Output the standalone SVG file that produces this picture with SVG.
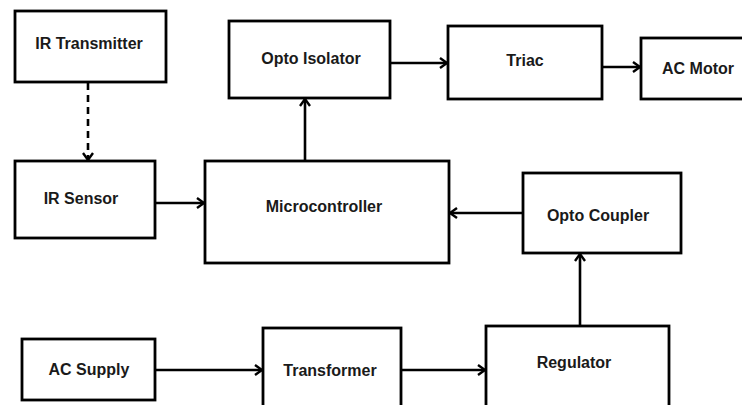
<svg xmlns="http://www.w3.org/2000/svg" width="742" height="405" viewBox="0 0 742 405">
<style>
.box{fill:#fff;stroke:#000;stroke-width:2.8}
.lbl{font-family:"Liberation Sans",Arial,sans-serif;font-weight:bold;font-size:16px;fill:#1a1a1a;text-anchor:middle}
.con{fill:none;stroke:#000;stroke-width:2.6}
.dash{stroke-dasharray:7 5}
</style>
<defs>
<marker id="arr" viewBox="0 0 10 12" refX="9" refY="6" markerWidth="10" markerHeight="12" markerUnits="userSpaceOnUse" orient="auto">
<path d="M2,1 L9,6 L2,11" fill="none" stroke="#000" stroke-width="2.4"/>
</marker>
</defs>
<rect width="742" height="405" fill="#fff"/>
<g id="connectors">
<path class="con dash" d="M88,83 V160" marker-end="url(#arr)"/>
<path class="con" d="M155,203 H204" marker-end="url(#arr)"/>
<path class="con" d="M305,161 V99" marker-end="url(#arr)"/>
<path class="con" d="M390,63 H447" marker-end="url(#arr)"/>
<path class="con" d="M602,67 H640" marker-end="url(#arr)"/>
<path class="con" d="M523,213 H450" marker-end="url(#arr)"/>
<path class="con" d="M580,326 V254" marker-end="url(#arr)"/>
<path class="con" d="M155,370 H262" marker-end="url(#arr)"/>
<path class="con" d="M401,370 H485" marker-end="url(#arr)"/>
</g>
<g id="ir-transmitter"><rect class="box" x="15" y="11" width="151" height="71"/><text class="lbl" x="89" y="49">IR Transmitter</text></g>
<g id="opto-isolator"><rect class="box" x="229" y="21" width="161" height="77"/><text class="lbl" x="311" y="64">Opto Isolator</text></g>
<g id="triac"><rect class="box" x="448" y="26" width="154" height="73"/><text class="lbl" x="525" y="66">Triac</text></g>
<g id="ac-motor"><rect class="box" x="641" y="38" width="110" height="61"/><text class="lbl" x="698" y="74">AC Motor</text></g>
<g id="ir-sensor"><rect class="box" x="15" y="161" width="140" height="77"/><text class="lbl" x="81" y="204">IR Sensor</text></g>
<g id="microcontroller"><rect class="box" x="205" y="161" width="244" height="102"/><text class="lbl" x="324" y="212">Microcontroller</text></g>
<g id="opto-coupler"><rect class="box" x="523" y="173" width="158" height="80"/><text class="lbl" x="598" y="221">Opto Coupler</text></g>
<g id="ac-supply"><rect class="box" x="22" y="339" width="133" height="61"/><text class="lbl" x="89" y="375">AC Supply</text></g>
<g id="transformer"><rect class="box" x="263" y="328" width="138" height="90"/><text class="lbl" x="330" y="376">Transformer</text></g>
<g id="regulator"><rect class="box" x="486" y="326" width="183" height="92"/><text class="lbl" x="574" y="368">Regulator</text></g>
</svg>
